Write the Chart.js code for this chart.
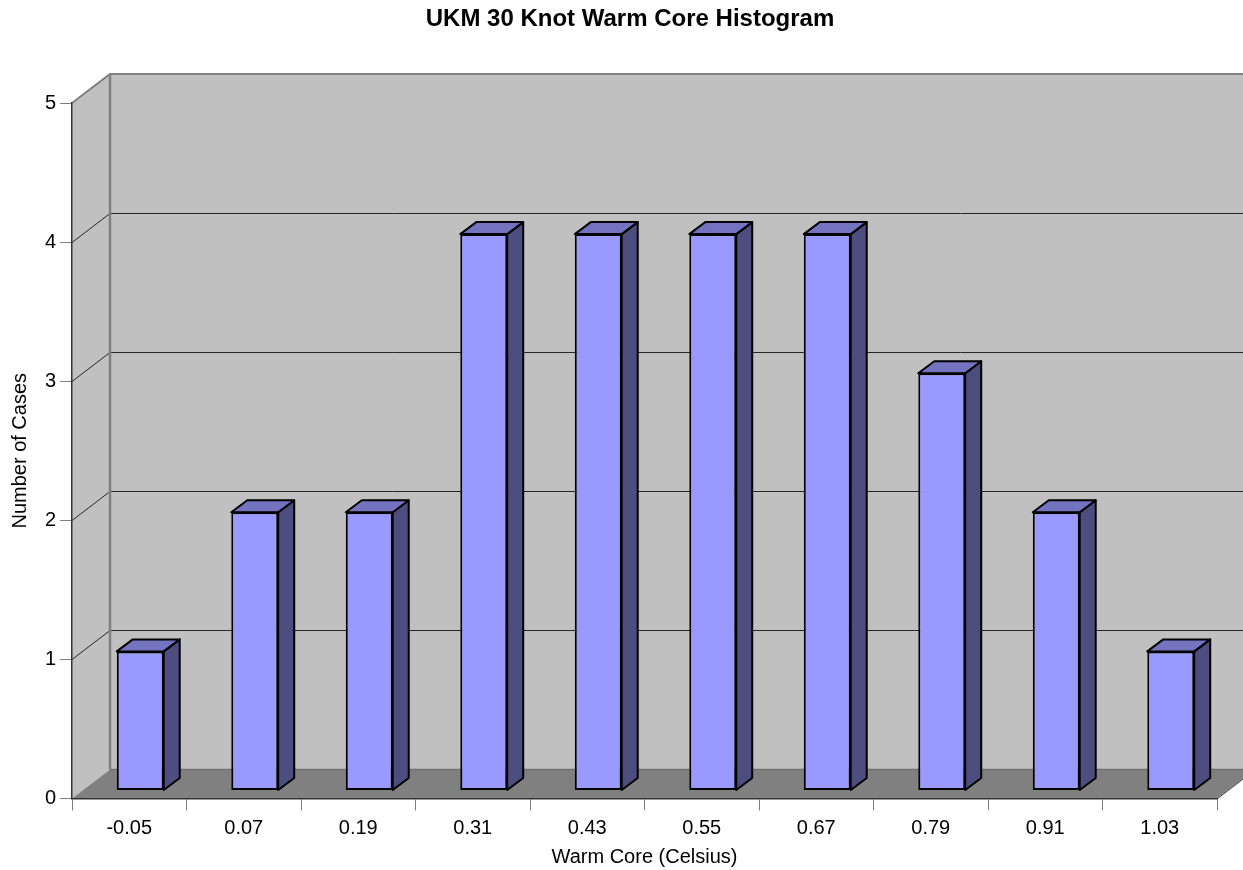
<!DOCTYPE html>
<html>
<head>
<meta charset="utf-8">
<title>UKM 30 Knot Warm Core Histogram</title>
<script src="https://cdn.jsdelivr.net/npm/chart.js@4/dist/chart.umd.min.js"></script>
<style>
  html, body { margin: 0; padding: 0; background: #fff; }
  canvas { display: block; }
</style>
</head>
<body>
<canvas id="histograma" width="1243" height="870"></canvas>
<script>
const categorias = ['-0.05', '0.07', '0.19', '0.31', '0.43', '0.55', '0.67', '0.79', '0.91', '1.03'];
const casos = [1, 2, 2, 4, 4, 4, 4, 3, 2, 1];
const marcasY = [0, 1, 2, 3, 4, 5];

const titulo = 'UKM 30 Knot Warm Core Histogram';
const tituloX = 'Warm Core (Celsius)';
const tituloY = 'Number of Cases';

const fuente = '"Liberation Sans", Arial, sans-serif';

// Profundidad del grafico 3D: pared del fondo y cara frontal de las barras
const FONDO = { x: 38, y: -29 };
const BARRA_INICIO = { x: 11, y: -8 };
const BARRA_PROF = { x: 16, y: -12 };

function poligono(ctx, puntos, relleno, borde, grosor) {
  ctx.beginPath();
  puntos.forEach((p, i) => i ? ctx.lineTo(p[0], p[1]) : ctx.moveTo(p[0], p[1]));
  ctx.closePath();
  ctx.fillStyle = relleno;
  ctx.fill();
  if (borde) {
    ctx.strokeStyle = borde;
    ctx.lineWidth = grosor;
    ctx.lineJoin = 'round';
    ctx.stroke();
  }
}

function linea(ctx, puntos, color, grosor) {
  ctx.beginPath();
  puntos.forEach((p, i) => i ? ctx.lineTo(p[0], p[1]) : ctx.moveTo(p[0], p[1]));
  ctx.strokeStyle = color;
  ctx.lineWidth = grosor;
  ctx.stroke();
}

const paredes3D = {
  id: 'paredes3D',
  afterLayout(chart) {
    // El titulo va centrado en x=630 como en la original
    chart.titleBlock.left = 17;
    chart.titleBlock.right = 1243;
  },
  beforeDraw(chart) {
    const ctx = chart.ctx;
    const { left, right } = chart.chartArea;
    const y = chart.scales.y;
    const y0 = y.getPixelForValue(0);
    const yTop = y.getPixelForValue(5);
    const dx = FONDO.x, dy = FONDO.y;

    ctx.save();
    // pared del fondo y pared lateral
    poligono(ctx, [[left + dx, yTop + dy], [right + dx, yTop + dy], [right + dx, y0 + dy], [left + dx, y0 + dy]], '#c0c0c0');
    poligono(ctx, [[left, yTop], [left + dx, yTop + dy], [left + dx, y0 + dy], [left, y0]], '#c0c0c0');
    // piso
    poligono(ctx, [[left, y0], [left + dx, y0 + dy], [right + dx, y0 + dy], [right, y0]], '#808080');
    linea(ctx, [[right, y0 + 0.5], [right + dx, y0 + dy + 0.5]], '#404040', 1);
    linea(ctx, [[left + dx, y0 + dy], [right + dx, y0 + dy]], '#707070', 1.5);

    // lineas de division
    marcasY.slice(1, -1).forEach(v => {
      const py = Math.round(y.getPixelForValue(v)) + 0.5;
      linea(ctx, [[left, py], [left + dx, py + dy], [right + dx, py + dy]], '#262626', 1);
    });
    // bordes grises
    linea(ctx, [[left, yTop], [left + dx, yTop + dy], [right + dx, yTop + dy]], '#808080', 2);
    linea(ctx, [[left + dx, yTop + dy], [left + dx, y0 + dy]], '#808080', 2.5);
    ctx.restore();
  },
  beforeDatasetsDraw(chart) {
    const ctx = chart.ctx;
    const d = BARRA_PROF;
    ctx.save();
    ctx.translate(BARRA_INICIO.x, BARRA_INICIO.y);
    chart.getDatasetMeta(0).data.forEach(bar => {
      const l = bar.x - bar.width / 2, r = bar.x + bar.width / 2;
      const t = bar.y, b = bar.base;
      poligono(ctx, [[r, t], [r + d.x, t + d.y], [r + d.x, b + d.y], [r, b]], '#4d4d80', '#000', 2);
      poligono(ctx, [[l, t], [l + d.x, t + d.y], [r + d.x, t + d.y], [r, t]], '#7373bf', '#000', 2);
    });
    // la cara frontal la dibuja Chart.js con este mismo desplazamiento
  },
  afterDatasetsDraw(chart) {
    chart.ctx.restore();
  }
};

new Chart(document.getElementById('histograma'), {
  type: 'bar',
  data: {
    labels: categorias,
    datasets: [{
      data: casos,
      backgroundColor: '#9999ff',
      borderColor: '#000000',
      borderWidth: 2,
      borderSkipped: false,
      barPercentage: 0.41,
      categoryPercentage: 1,
      clip: false
    }]
  },
  options: {
    responsive: false,
    animation: false,
    layout: { padding: { top: 0, right: 26, bottom: 0, left: 0 } },
    plugins: {
      legend: { display: false },
      tooltip: { enabled: false },
      title: {
        display: true,
        text: titulo,
        color: '#000',
        font: { family: fuente, size: 24, weight: 'bold' },
        padding: { top: 5, bottom: 69.2 }
      }
    },
    scales: {
      x: {
        offset: true,
        afterFit: s => { s.height = 71.5; },
        grid: { offset: true, drawOnChartArea: false, color: '#808080', tickLength: 12 },
        border: { color: '#333333', width: 1.5 },
        ticks: { color: '#000', font: { family: fuente, size: 20 }, padding: 6, maxRotation: 0 },
        title: { display: true, text: tituloX, color: '#000', font: { family: fuente, size: 20 }, padding: { top: 0, bottom: 1 } }
      },
      y: {
        min: 0,
        max: 5,
        afterFit: s => { s.width = 72; },
        grid: { drawOnChartArea: false, color: '#808080', tickLength: 12 },
        border: { color: '#333333', width: 1.5 },
        ticks: { color: '#000', stepSize: 1, font: { family: fuente, size: 20 }, padding: 4 },
        title: { display: true, text: tituloY, color: '#000', font: { family: fuente, size: 20 }, padding: { top: 8, bottom: 0 } }
      }
    }
  },
  plugins: [paredes3D]
});
</script>
</body>
</html>
